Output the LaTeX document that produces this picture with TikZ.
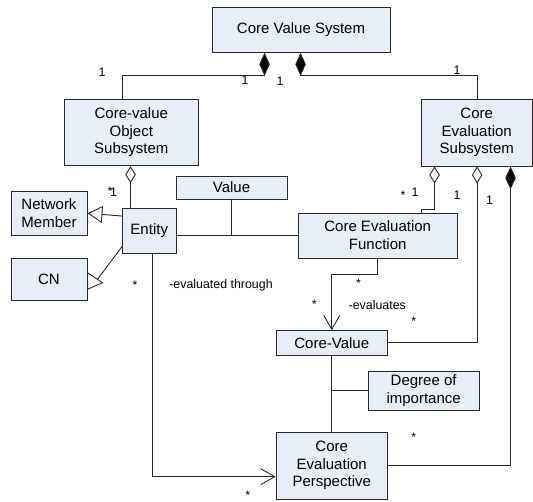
\documentclass[tikz,border=0pt]{standalone}
\usepackage{fontspec}
\setmainfont{Liberation Sans}
\usetikzlibrary{arrows.meta,calc}

\definecolor{boxfill}{RGB}{232,238,247}
\definecolor{linecol}{RGB}{40,40,40}

\tikzset{
  umlbox/.style={draw=linecol, fill=boxfill, line width=0.9pt, inner sep=0pt,
                 align=center, font=\fontsize{15}{17.8}\selectfont},
  conn/.style={draw=linecol, line width=0.9pt},
  comp/.style={conn, {Diamond[length=23pt,width=10.5pt,fill=black]}-},
  aggr/.style={conn, {Diamond[open,length=17pt,width=10.5pt,fill=white]}-},
  gen/.style={conn, -{Triangle[open,length=15pt,width=17pt,fill=white]}},
  nav/.style={conn, -{Straight Barb[length=14pt,width=16pt]}},
  mult/.style={inner sep=0pt, font=\fontsize{12.4}{14}\selectfont}
}

\begin{document}
\begin{tikzpicture}[x=1pt,y=-1pt]
\useasboundingbox (0,0) rectangle (533,501);

% classes
\node[umlbox, minimum width=178pt,   minimum height=45pt]   (cvs)  at (301,29.8)     {Core Value System};
\node[umlbox, minimum width=133.4pt, minimum height=66.7pt] (cvos) at (131.3,132.3)  {Core-value\\Object\\Subsystem};
\node[umlbox, minimum width=110.5pt, minimum height=67pt]   (ces)  at (476.75,132.5) {Core\\Evaluation\\Subsystem};
\node[umlbox, minimum width=53.5pt,  minimum height=44.5pt] (ent)  at (149.25,230.75) {Entity};
\node[umlbox, minimum width=76pt,    minimum height=43.5pt] (nm)   at (49,213.25)    {Network\\Member};
\node[umlbox, minimum width=76pt,    minimum height=42pt]   (cn)   at (49,279)       {CN};
\node[umlbox, minimum width=111pt,   minimum height=23pt]   (val)  at (231.5,187.5)  {Value};
\node[umlbox, minimum width=158.6pt, minimum height=45pt]   (cef)  at (377.7,235.5)  {Core Evaluation\\Function};
\node[umlbox, minimum width=111.5pt, minimum height=24.3pt] (cv)   at (331.75,342.85) {Core-Value};
\node[umlbox, minimum width=111.3pt, minimum height=38.3pt] (doi)  at (423.65,390.85) {Degree of\\importance};
\node[umlbox, minimum width=111.5pt, minimum height=67pt]   (cep)  at (331.75,465.5) {Core\\Evaluation\\Perspective};

% compositions of the core value system
\draw[comp] ($(cvs.south west)+(53,0)$) -- ++(0,23) -| ($(cvos.north west)+(57.8,0)$);
\draw[comp] ($(cvs.south west)+(89,0)$) -- ++(0,23) -| ($(ces.north west)+(56.1,0)$);

% object subsystem aggregates entities
\draw[aggr] ($(cvos.south west)+(66.4,0)$) -- ($(ent.north west)+(8.5,0)$);

% generalizations of entity
\draw[gen] ($(ent.north west)+(0,8)$) -- (nm.east);
\draw[conn] ($(ent.south west)+(0,-7)$) -- ($(cn.east)+(10,0.4)$);
\draw[conn, fill=white] ($(cn.east)+(0,-6.3)$) -- ($(cn.east)+(15,3.7)$) -- ($(cn.east)+(0,10.3)$) -- cycle;

% association entity -- evaluation function with association class
\draw[conn] (ent.east |- cef.west) -- (cef.west);
\draw[conn] (val.south) -- (val.south |- cef.west);

% evaluation subsystem parts
\draw[aggr] ($(ces.south west)+(13.5,0)$) -- ++(0,43) -| ($(cef.north west)+(123.1,0)$);
\draw[aggr] ($(ces.south west)+(56.1,0)$) |- (cv.east);
\draw[comp] ($(ces.south west)+(89.5,0)$) |- (cep.east);

% evaluates
\draw[nav] (cef.south) -- ++(0,16.3) -| (cv.north);

% core value -- perspective with association class
\draw[conn] (cv.south) -- (cep.north);
\draw[conn] (doi.west) -- (doi.west -| cv.south);

% evaluated through
\draw[nav] ($(ent.south west)+(30.8,0)$) |- ($(cep.west)+(0,11.2)$);

% multiplicities and role names
\node[mult] at (102,72) {1};
\node[mult] at (245,80) {1};
\node[mult] at (280,81) {1};
\node[mult] at (457,70) {1};
\node[mult] at (110,191.5) {*};
\node[mult] at (113.5,192) {1};
\node[mult] at (403,195.5) {*};
\node[mult] at (415,192) {1};
\node[mult] at (457,195) {1};
\node[mult] at (489.5,200) {1};
\node[mult] at (135,285) {*};
\node[mult] at (221,285.5) {-evaluated through};
\node[mult] at (358.6,283) {*};
\node[mult] at (314.4,304) {*};
\node[mult] at (377.3,305) {-evaluates};
\node[mult] at (413.7,321.5) {*};
\node[mult] at (413.7,437.5) {*};
\node[mult] at (247.7,495.5) {*};
\end{tikzpicture}
\end{document}
